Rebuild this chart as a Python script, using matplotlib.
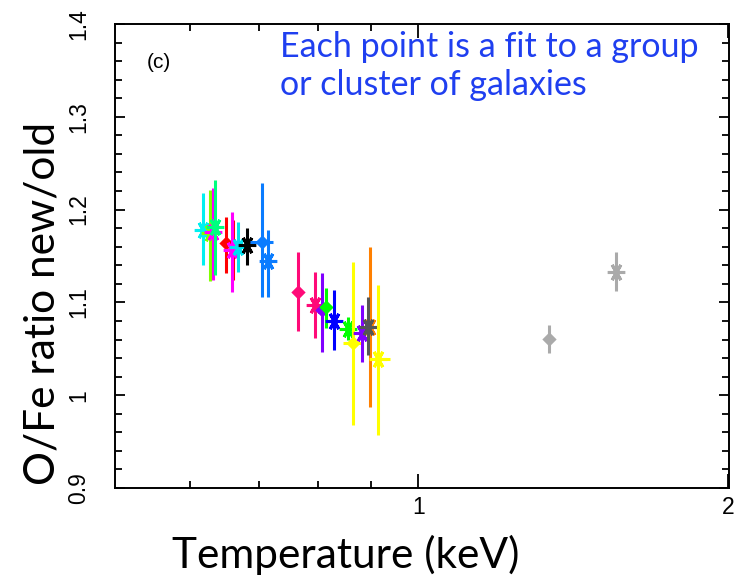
import matplotlib.pyplot as plt
from matplotlib.ticker import FixedLocator, FixedFormatter, NullFormatter, MultipleLocator

# temperature (keV), O/Fe ratio new/old, lower / upper error bar ends
temps = [0.618, 0.628, 0.632, 0.635, 0.651, 0.661, 0.660, 0.669, 0.682, 0.706, 0.715,
         0.765, 0.794, 0.807, 0.814, 0.829, 0.855, 0.865, 0.882, 0.898, 0.894, 0.915,
         1.340, 1.557]
ratios = [1.178, 1.175, 1.176, 1.181, 1.164, 1.162, 1.156, 1.160, 1.162, 1.165, 1.145,
          1.111, 1.097, 1.092, 1.095, 1.080, 1.071, 1.056, 1.067, 1.073, 1.073, 1.039,
          1.061, 1.133]
err_low = [1.140, 1.123, 1.124, 1.130, 1.132, 1.124, 1.111, 1.133, 1.140, 1.106, 1.106,
           1.069, 1.062, 1.047, 1.072, 1.049, 1.059, 0.968, 1.036, 0.987, 1.043, 0.957,
           1.045, 1.112]
err_high = [1.218, 1.221, 1.223, 1.232, 1.192, 1.189, 1.197, 1.187, 1.180, 1.229, 1.178,
            1.154, 1.133, 1.132, 1.116, 1.113, 1.084, 1.144, 1.097, 1.160, 1.106, 1.119,
            1.076, 1.154]
# temperature error ranges where visible (None = no bar)
t_low = [None] * 9 + [0.687] + [None] * 7 + [0.846] + [None] * 3 + [0.898] + [None, None]
t_high = [None] * 9 + [0.723] + [None] * 7 + [0.885] + [None] * 3 + [0.939] + [None, None]

y_ticks = [0.9, 1.0, 1.1, 1.2, 1.3, 1.4]
y_tick_labels = ['0.9', '1', '1.1', '1.2', '1.3', '1.4']
x_ticks = [1, 2]
x_tick_labels = ['1', '2']

colors = ['#00f0f0', '#80ff00', '#ff00ff', '#00ff80', '#ff0000', '#ff0000', '#ff00ff',
          '#00e0f0', '#000000', '#0a7cff', '#0a7cff', '#ff0a78', '#ff0a78', '#8000ff',
          '#00ff00', '#0000ff', '#00ff00', '#ffff00', '#8000ff', '#ff8000', '#555555',
          '#ffff00', '#aaaaaa', '#aaaaaa']
markers = ['*', '*', '*', '*', 'D', 'D', '*', '*', '*', 'D', '*', 'D', '*', 'D', 'D',
           '*', '*', 'D', '*', '*', '*', '*', 'D', '*']

fig = plt.figure(figsize=(7.35, 5.82), dpi=100)
ax = fig.add_axes([0.1565, 0.1615, 0.836, 0.7973])

for i in range(len(temps)):
    yerr = [[ratios[i] - err_low[i]], [err_high[i] - ratios[i]]]
    xerr = None
    if t_low[i] is not None:
        xerr = [[temps[i] - t_low[i]], [t_high[i] - temps[i]]]
    if markers[i] == '*':
        mk, ms = (6, 2, 90), 12.5
    else:
        mk, ms = 'D', 5.5
    ax.errorbar(temps[i], ratios[i], yerr=yerr, xerr=xerr, fmt='none',
                ecolor=colors[i], elinewidth=2.2, capsize=0)
    ax.plot(temps[i], ratios[i], linestyle='none', marker=mk, markersize=ms,
            color=colors[i], markeredgecolor=colors[i], markeredgewidth=2.2)

ax.set_xscale('log')
ax.set_xlim(0.508, 2.005)
ax.set_ylim(0.9, 1.4)

ax.xaxis.set_major_locator(FixedLocator(x_ticks))
ax.xaxis.set_major_formatter(FixedFormatter(x_tick_labels))
ax.xaxis.set_minor_locator(FixedLocator([0.6, 0.7, 0.8, 0.9]))
ax.xaxis.set_minor_formatter(NullFormatter())
ax.yaxis.set_major_locator(FixedLocator(y_ticks))
ax.yaxis.set_major_formatter(FixedFormatter(y_tick_labels))
ax.yaxis.set_minor_locator(MultipleLocator(0.02))

ax.tick_params(which='both', direction='in', top=True, right=True, width=1.3,
               labelsize=16.5)
ax.tick_params(which='major', length=10)
ax.tick_params(which='minor', length=5)
ax.tick_params(axis='y', which='major', length=7, pad=18)
ax.tick_params(axis='x', pad=6)
for lbl in ax.get_yticklabels():
    lbl.set_rotation(90)
    lbl.set_va('center')
for s in ax.spines.values():
    s.set_linewidth(1.4)

for lbl in ax.get_xticklabels() + ax.get_yticklabels():
    lbl.set_family('Liberation Sans')

ax.text(0.052, 0.905, '(c)', transform=ax.transAxes, fontsize=15,
        family='Liberation Sans')
ax.text(0.268, 0.985, 'Each point is a fit to a group\nor cluster of galaxies',
        transform=ax.transAxes, fontsize=24.5, color='#1f3ff0', va='top',
        family='Lato', linespacing=1.25)

fig.text(0.058, 0.478, 'O/Fe ratio new/old', rotation=90, fontsize=30.5,
         family='Lato', ha='center', va='center')
fig.text(0.47, 0.046, 'Temperature (keV)', fontsize=30.5, family='Lato',
         ha='center', va='center')

plt.savefig('out.png', dpi=100)
